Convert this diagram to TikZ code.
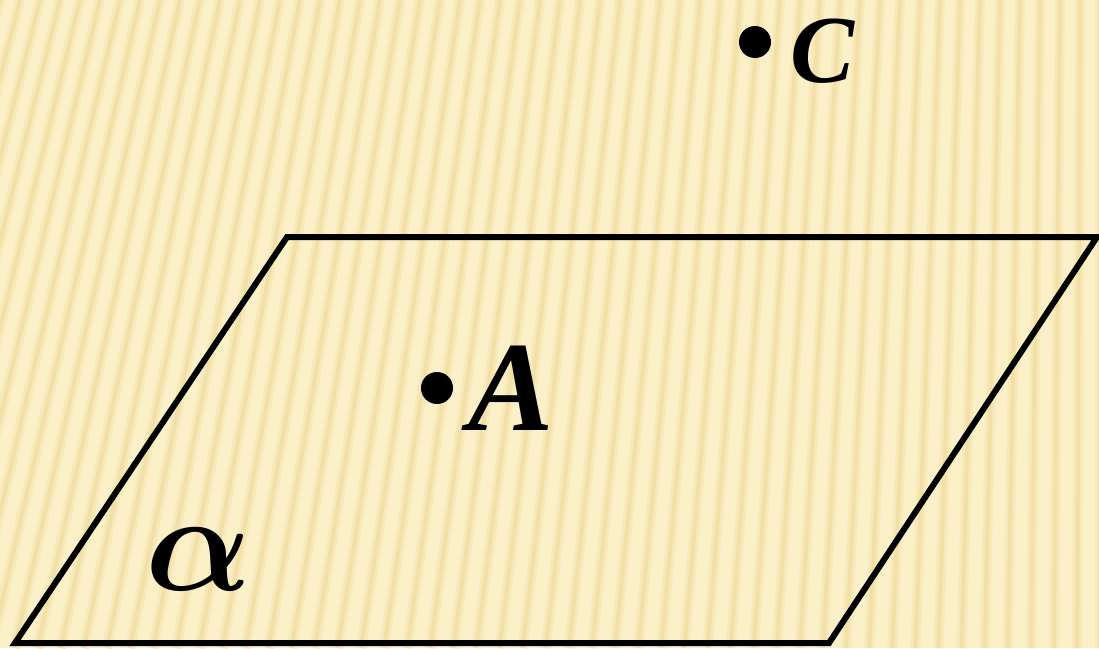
\documentclass[tikz,border=0pt]{standalone}
\usepackage{fontspec}
\setmainfont{Liberation Serif}
\usetikzlibrary{positioning}
\definecolor{paper}{HTML}{FCF0C8}
\definecolor{stripesoft}{HTML}{F8E9BA}
\definecolor{stripedark}{HTML}{F3E0A6}
\tikzset{
  stripeglow/.style={stripesoft, line width=10pt},
  stripeline/.style={stripedark, line width=4pt},
  dotpt/.style={circle, fill=black, inner sep=0pt, minimum size=32pt},
  ptlabel/.style={inner sep=0pt, font=\bfseries\itshape},
  plane/.style={line width=6pt, line join=miter}
}
\begin{document}
\begin{tikzpicture}[x=1pt, y=-1pt]
        \useasboundingbox (0,0) rectangle (1099,648);
        \clip (0,0) rectangle (1099,648);
        % background with slanted stripes
        \fill[paper] (0,0) rectangle (1099,648);
        \foreach \i in {0,...,56} {
            \pgfmathsetmacro\xt{\i*20}
            \pgfmathsetmacro\xb{\xt-0.155*(1099-\xt)}
            \draw[stripeglow] (\xt,0) -- (\xb,648);
            \draw[stripeline] (\xt,0) -- (\xb,648);
        }

        % plane alpha
        \coordinate (TL) at (287,237);
        \coordinate (TR) at (1097,237);
        \coordinate (BR) at (829,643);
        \coordinate (BL) at (15,643);
        \draw[plane] (TL) -- (TR) -- (BR) -- (BL) -- cycle;
        \node (alpha)[inner sep=0pt, anchor=base west, scale=14, font=\boldmath] at (143,590) {$\alpha$};

        % points
        \node (ptA)[dotpt] at (437,388) {};
        \node (labA)[ptlabel, anchor=base west, font=\fontsize{128}{128}\selectfont\bfseries\itshape] at (468,430) {A};
        \node (ptC)[dotpt] at (755,42) {};
        \node (labC)[ptlabel, anchor=base west, font=\fontsize{96}{96}\selectfont\bfseries\itshape] at (790,82) {C};
    \end{tikzpicture}
\end{document}
